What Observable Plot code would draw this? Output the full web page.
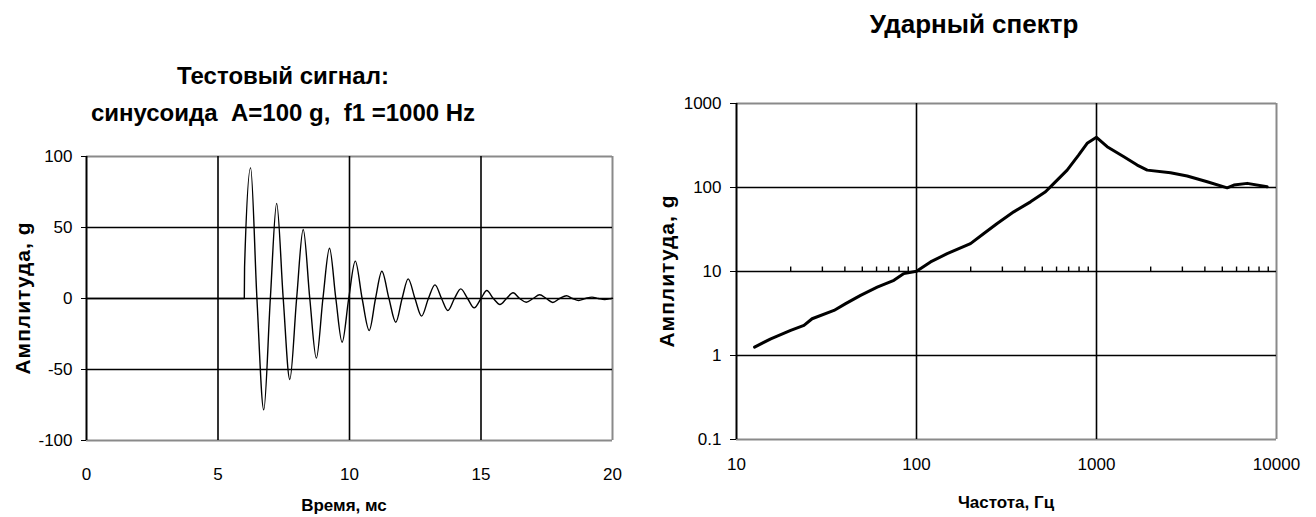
<!DOCTYPE html>
<html>
<head>
<meta charset="utf-8">
<script src="https://cdn.jsdelivr.net/npm/d3@7"></script>
<script src="https://cdn.jsdelivr.net/npm/@observablehq/plot@0.6"></script>
<style>
  body { margin: 0; background: #fff; }
  #root { position: relative; width: 1316px; height: 517px; background: #fff; font-family: "Liberation Sans", Arial, sans-serif; color: #000; overflow: hidden; }
  .t { position: absolute; white-space: pre; font-weight: bold; text-align: center; }
  .rot { position: absolute; white-space: pre; font-weight: bold; transform: translate(-50%, -50%) rotate(-90deg); line-height: 1; letter-spacing: 1px; }
  svg { position: absolute; }
</style>
</head>
<body>
<div id="root">
  <div class="t" style="left:0;width:566px;top:57px;font-size:24px;line-height:37px;">Тестовый сигнал:
синусоида  A=100 g,  f1 =1000 Hz</div>
  <div class="t" style="left:774px;width:400px;top:11px;font-size:26px;line-height:26px;">Ударный спектр</div>
  <div class="t" style="left:144px;width:400px;top:497px;font-size:17px;line-height:17px;">Время, мс</div>
  <div class="t" style="left:806px;width:400px;top:494px;font-size:17px;line-height:17px;">Частота, Гц</div>
  <div class="rot" style="left:22px;top:298px;font-size:21px;">Амплитуда, g</div>
  <div class="rot" style="left:666px;top:271px;font-size:21px;">Амплитуда, g</div>
</div>
<script>
// ---- Left chart: test signal (time in ms, acceleration in g) ----
const timeMs = [0, 6.0, 6.01, 6.24, 6.48, 6.74, 6.99, 7.23, 7.48, 7.73, 7.99, 8.24, 8.49, 8.74, 8.99, 9.24, 9.48, 9.72, 9.97, 10.22, 10.48, 10.75, 10.99, 11.23, 11.5, 11.76, 12.0, 12.23, 12.49, 12.74, 13.0, 13.25, 13.5, 13.74, 13.99, 14.23, 14.49, 14.74, 15.0, 15.22, 15.47, 15.72, 15.97, 16.22, 16.47, 16.72, 16.98, 17.23, 17.48, 17.73, 17.99, 18.25, 18.48, 18.71, 18.97, 19.22, 19.46, 19.7, 19.95, 20];
const accelG = [0, 0, 22, 92, 0, -78.4, 0, 67, 0, -57, 0, 48.6, 0, -42, 0, 35.4, 0, -30.8, 0, 26.3, 0, -22.5, 0, 19.2, 0, -16.7, 0, 13.8, 0, -12.4, 0, 9.6, 0, -8.5, 0, 6.8, 0, -6.6, 0, 5.6, 0, -4.2, 0, 4.0, 0, -2.6, 0, 2.6, 0, -2.8, 0, 1.9, 0, -1.4, 0, 1.0, 0, -0.8, 0, 0.2];
const timeTicks = [0, 5, 10, 15, 20];
const accelTicks = [-100, -50, 0, 50, 100];

// ---- Right chart: shock response spectrum ----
const freqHz = [12.6, 15.5, 20, 23.7, 26.3, 34.8, 40.4, 48.9, 60.5, 74.9, 85.1, 100, 119.7, 148, 199.5, 236.7, 280.7, 347, 430, 521, 580, 687, 797, 887, 1000, 1146, 1419, 1683, 1914, 2577, 3190, 4121, 5323, 5798, 6877, 8875];
const srsG = [1.26, 1.58, 1.99, 2.28, 2.74, 3.44, 4.14, 5.2, 6.5, 7.85, 9.44, 10.06, 13, 16.3, 21.5, 28.3, 37.3, 51.3, 67.5, 88.9, 112, 161, 244, 336, 396, 306, 232, 185, 161, 150, 137, 117, 99, 107, 112, 102];
const freqTicks = [10, 100, 1000, 10000];
const srsTicks = [0.1, 1, 10, 100, 1000];

const signal = timeMs.map((t, i) => ({t, a: accelG[i]}));
const spectrum = freqHz.map((f, i) => ({f, s: srsG[i]}));
const minorFreq = [10, 100, 1000].flatMap(d => d3.range(2, 10).map(k => k * d));

const FRAME = "#8a8a8a";
const style = {fontFamily: '"Liberation Sans", Arial, sans-serif', fontSize: "17px", color: "#000", background: "transparent", overflow: "visible"};

const left = Plot.plot({
  width: 640, height: 377,
  marginLeft: 86, marginRight: 28, marginTop: 16, marginBottom: 77,
  style,
  x: {domain: [0, 20], label: null},
  y: {domain: [-100, 100], label: null},
  marks: [
    Plot.ruleY([100, -100], {stroke: FRAME, strokeWidth: 2}),
    Plot.ruleX([20], {stroke: FRAME, strokeWidth: 2}),
    Plot.ruleY([50, 0, -50], {stroke: "#000", strokeWidth: 1.6}),
    Plot.ruleX([5, 10, 15], {stroke: "#000", strokeWidth: 1.6}),
    Plot.ruleX([0], {stroke: "#000", strokeWidth: 2}),
    Plot.axisY({ticks: accelTicks, tickSize: 5, tickPadding: 9, label: null, tickFormat: d => String(d)}),
    Plot.axisX({ticks: timeTicks, tickSize: 0, tickPadding: 27, label: null, tickFormat: d => String(d)}),
    Plot.line(signal, {x: "t", y: "a", stroke: "#000", strokeWidth: 1.4, curve: "monotone-x"})
  ]
});
left.style.left = "0px";
left.style.top = "140px";

const right = Plot.plot({
  width: 656, height: 437,
  marginLeft: 76, marginRight: 40, marginTop: 23, marginBottom: 78,
  style,
  x: {type: "log", domain: [10, 10000], label: null},
  y: {type: "log", domain: [0.1, 1000], label: null},
  marks: [
    Plot.ruleY([1000, 0.1], {stroke: FRAME, strokeWidth: 2}),
    Plot.ruleX([10000], {stroke: FRAME, strokeWidth: 2}),
    Plot.ruleY([100, 10, 1], {stroke: "#000", strokeWidth: 1.6}),
    Plot.ruleX([100, 1000], {stroke: "#000", strokeWidth: 1.6}),
    Plot.ruleX([10], {stroke: "#000", strokeWidth: 2}),
    Plot.ruleX(minorFreq, {x: d => d, y1: 10, y2: 11.3, stroke: "#000", strokeWidth: 1.4}),
    Plot.axisY({ticks: srsTicks, tickSize: 6, tickPadding: 9, label: null, tickFormat: d => String(d)}),
    Plot.axisX({ticks: freqTicks, tickSize: 0, tickPadding: 18, label: null, tickFormat: d => String(d)}),
    Plot.line(spectrum, {x: "f", y: "s", stroke: "#000", strokeWidth: 3, strokeLinejoin: "round"})
  ]
});
right.style.left = "660px";
right.style.top = "80px";

const root = document.getElementById("root");
root.appendChild(left);
root.appendChild(right);
</script>
</body>
</html>
